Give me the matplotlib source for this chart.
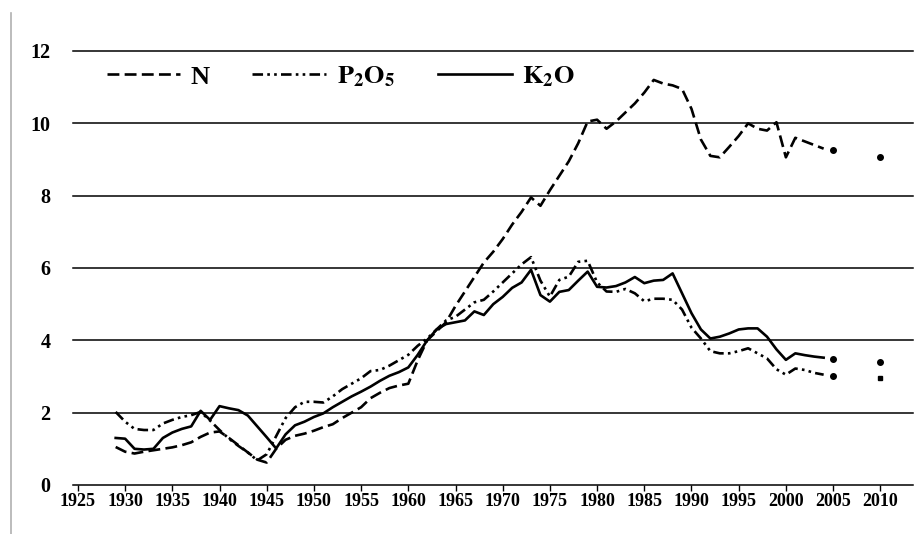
import numpy as np
import matplotlib
matplotlib.use('Agg')
import matplotlib.pyplot as plt
from matplotlib.lines import Line2D

plt.rcParams['font.family'] = ['Liberation Serif', 'DejaVu Serif']
plt.rcParams['mathtext.fontset'] = 'stix'

years = list(range(1929, 2005))

n_vals = [1.05, 0.92, 0.87, 0.92, 0.96, 1.00, 1.04, 1.10, 1.18, 1.33,
          1.45, 1.48, 1.30, 1.10, 0.90, 0.70, 0.62, 1.00, 1.25, 1.36,
          1.42, 1.50, 1.60, 1.68, 1.85, 2.00, 2.15, 2.40, 2.55, 2.68,
          2.75, 2.80, 3.45, 4.00, 4.25, 4.50, 4.95, 5.35, 5.75, 6.15,
          6.45, 6.80, 7.20, 7.55, 7.95, 7.72, 8.15, 8.55, 8.95, 9.45,
          10.05, 10.10, 9.85, 10.05, 10.30, 10.55, 10.85, 11.20, 11.10, 11.05,
          10.95, 10.40, 9.55, 9.10, 9.06, 9.35, 9.65, 10.00, 9.85, 9.80,
          10.03, 9.06, 9.60, 9.50, 9.40, 9.30]

p_vals = [2.02, 1.75, 1.55, 1.52, 1.52, 1.70, 1.80, 1.88, 1.93, 2.02,
          1.78, 1.52, 1.28, 1.08, 0.90, 0.68, 0.85, 1.35, 1.85, 2.15,
          2.30, 2.30, 2.28, 2.45, 2.65, 2.80, 2.95, 3.15, 3.18, 3.30,
          3.45, 3.60, 3.85, 4.05, 4.30, 4.55, 4.65, 4.85, 5.05, 5.12,
          5.35, 5.60, 5.85, 6.10, 6.30, 5.65, 5.21, 5.67, 5.76, 6.17,
          6.20, 5.60, 5.35, 5.34, 5.42, 5.30, 5.08, 5.15, 5.15, 5.12,
          4.85, 4.35, 4.05, 3.70, 3.64, 3.64, 3.70, 3.78, 3.64, 3.50,
          3.20, 3.05, 3.22, 3.18, 3.10, 3.05]

k_vals = [1.30, 1.28, 1.00, 0.98, 1.00, 1.30, 1.45, 1.55, 1.62, 2.05,
          1.80, 2.18, 2.12, 2.07, 1.92, 1.62, 1.32, 1.01, 1.40, 1.65,
          1.75, 1.88, 1.98, 2.15, 2.30, 2.45, 2.58, 2.72, 2.88, 3.02,
          3.12, 3.25, 3.60, 4.00, 4.30, 4.45, 4.50, 4.55, 4.80, 4.70,
          5.00, 5.20, 5.45, 5.60, 5.95, 5.25, 5.07, 5.34, 5.39, 5.65,
          5.90, 5.48, 5.46, 5.50, 5.60, 5.75, 5.58, 5.65, 5.67, 5.85,
          5.30, 4.75, 4.30, 4.05, 4.10, 4.19, 4.30, 4.33, 4.33, 4.10,
          3.75, 3.46, 3.64, 3.59, 3.55, 3.52]

# single points after the lines
proj_years = [2005, 2010]
n_proj = [9.25, 9.06]
p_proj = [3.01, 2.95]
k_proj = [3.47, 3.41]

x_ticks = list(range(1925, 2011, 5))
y_ticks = [0, 2, 4, 6, 8, 10, 12]

fig = plt.figure(figsize=(9.23, 5.34), dpi=100)
ax = fig.add_axes([0.079, 0.0918, 0.910, 0.8127])

lw = 1.9
ax.plot(years, n_vals, color='black', lw=lw, linestyle=(0, (4.5, 2)), label='N')
ax.plot(years, p_vals, color='black', lw=lw, linestyle=(0, (4, 1.6, 1, 1.6, 1, 1.6)),
        label=r'$\mathbf{P_2O_5}$')
ax.plot(years, k_vals, color='black', lw=lw, label=r'$\mathbf{K_2O}$')

ax.plot(proj_years, n_proj, 'o', color='black', ms=4)
ax.plot(proj_years, k_proj, 'o', color='black', ms=4)
ax.plot(proj_years[:1], p_proj[:1], 'o', color='black', ms=4)
ax.plot(proj_years[1:], p_proj[1:], 's', color='black', ms=3.5)

for y in y_ticks:
    ax.axhline(y, color='black', lw=1.1, zorder=0, clip_on=False)

ax.set_xlim(1924.47, 2013.45)
ax.set_ylim(0, 12)
for s in ax.spines.values():
    s.set_visible(False)

ax.set_xticks(x_ticks)
ax.set_xticklabels([str(v) for v in x_ticks], fontsize=13, fontweight='bold')
ax.set_yticks(y_ticks)
ax.set_yticklabels([str(v) for v in y_ticks], fontsize=14.5, fontweight='bold')
ax.tick_params(axis='x', direction='out', length=4, width=1, color='black', pad=2)
ax.tick_params(axis='y', length=0, pad=16)

leg = ax.legend(loc='center left', bbox_to_anchor=(0.04, 0.94), ncol=3, frameon=False,
                prop={'family': 'Liberation Serif', 'weight': 'bold', 'size': 19},
                handlelength=2.8, handletextpad=0.4, columnspacing=1.6,
                borderpad=0, borderaxespad=0)

# thin grey border line at the left edge
fig.add_artist(Line2D([0.012, 0.012], [0.0, 0.975], transform=fig.transFigure,
                      color='#b0b0b0', lw=1.2))

fig.savefig('out.png', dpi=100)
